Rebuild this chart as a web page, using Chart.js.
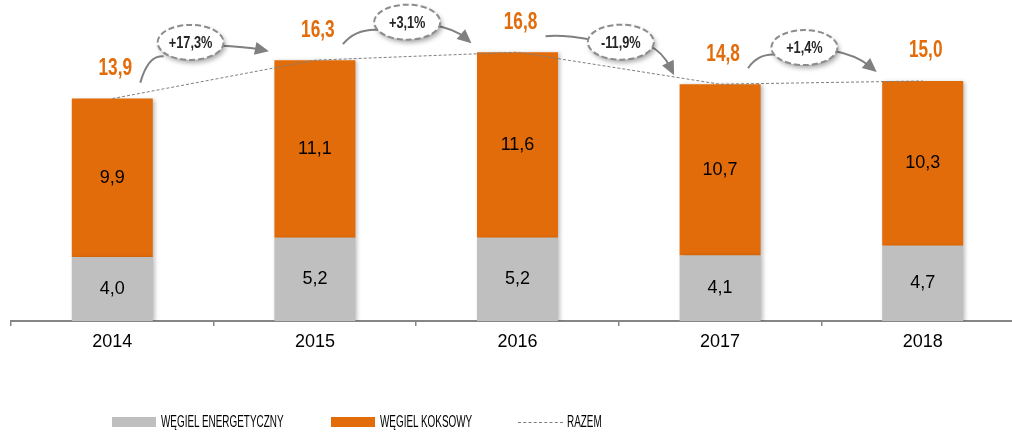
<!DOCTYPE html>
<html>
<head>
<meta charset="utf-8">
<script src="https://cdn.jsdelivr.net/npm/chart.js@4"></script>
<style>
    html, body { margin: 0; padding: 0; background: #fff; overflow: hidden; }
    #wrap { position: relative; width: 1012px; height: 432px; overflow: hidden; }
    #chart { position: absolute; left: 0; top: 0; }
    .legend-item { position: absolute; top: 413px; display: flex; align-items: center; height: 18px; white-space: nowrap;
        font: 16px "Liberation Sans", Arial, sans-serif; color: #000; }
    .legend-item span { display: inline-block; transform: scaleX(0.62); transform-origin: left center; }
    .legend-box { width: 44px; height: 10px; margin-right: 5px; }
    .legend-line { width: 45px; height: 0; border-top: 1px dashed #7f7f7f; margin-right: 4px; }
</style>
</head>
<body>
<div id="wrap">
    <canvas id="chart" width="1026" height="432"></canvas>
    <div class="legend-item" style="left:112px"><div class="legend-box" style="background:#bfbfbf"></div><span>WĘGIEL ENERGETYCZNY</span></div>
    <div class="legend-item" style="left:331px"><div class="legend-box" style="background:#e36c0a"></div><span>WĘGIEL KOKSOWY</span></div>
    <div class="legend-item" style="left:518px"><div class="legend-line"></div><span>RAZEM</span></div>
</div>
<script>
// dane
const years = ['2014', '2015', '2016', '2017', '2018'];
const energetyczny = [4.0, 5.2, 5.2, 4.1, 4.7];
const koksowy = [9.9, 11.1, 11.6, 10.7, 10.3];
const razem = [13.9, 16.3, 16.8, 14.8, 15.0];
const zmiany = ['+17,3%', '+3,1%', '-11,9%', '+1,4%'];

// ułożenie dymków ze zmianą (przesunięcie w px względem granicy kategorii / uniesienie nad średnią)
const dymekDx = [-23, -9, 2, -17];
const dymekLift = [37, 34, 26, 35];

const ORANGE = '#e36c0a';
const GRAY = '#bfbfbf';
const FONT = '"Liberation Sans", Arial, sans-serif';

const fmt = v => v.toFixed(1).replace('.', ',');

// cień pod słupkami
const barShadow = {
    id: 'barShadow',
    beforeDatasetDraw(chart, args) {
        if (args.meta.type !== 'bar') return;
        const ctx = chart.ctx;
        ctx.save();
        ctx.shadowColor = 'rgba(0,0,0,0.25)';
        ctx.shadowBlur = 4;
        ctx.shadowOffsetX = 2;
        ctx.shadowOffsetY = 1;
    },
    afterDatasetDraw(chart, args) {
        if (args.meta.type !== 'bar') return;
        chart.ctx.restore();
    }
};

// tekst zwężony (zamiast Arial Narrow)
function narrowText(ctx, text, x, y, sx) {
    ctx.save();
    ctx.translate(x, y);
    ctx.scale(sx, 1);
    ctx.fillText(text, 0, 0);
    ctx.restore();
}

function arrowHead(ctx, fromX, fromY, toX, toY) {
    const ang = Math.atan2(toY - fromY, toX - fromX);
    const len = 14, half = 6.5;
    ctx.beginPath();
    ctx.moveTo(toX, toY);
    ctx.lineTo(toX - len * Math.cos(ang) + half * Math.sin(ang), toY - len * Math.sin(ang) - half * Math.cos(ang));
    ctx.lineTo(toX - len * Math.cos(ang) - half * Math.sin(ang), toY - len * Math.sin(ang) + half * Math.cos(ang));
    ctx.closePath();
    ctx.fill();
}

// etykiety wartości, sumy i strzałki ze zmianą r/r
const labels = {
    id: 'labels',
    afterDatasetsDraw(chart) {
        const ctx = chart.ctx;
        const x = chart.scales.x;
        const y = chart.scales.y;
        const gray = chart.getDatasetMeta(0).data;
        const orange = chart.getDatasetMeta(1).data;

        ctx.save();
        ctx.textAlign = 'center';
        ctx.textBaseline = 'middle';
        ctx.fillStyle = '#000';
        ctx.font = '18px ' + FONT;
        gray.forEach((bar, i) => ctx.fillText(fmt(energetyczny[i]), bar.x, (bar.y + bar.base) / 2));
        orange.forEach((bar, i) => ctx.fillText(fmt(koksowy[i]), bar.x, (bar.y + bar.base) / 2));

        ctx.fillStyle = ORANGE;
        ctx.font = 'bold 23px ' + FONT;
        orange.forEach((bar, i) => narrowText(ctx, fmt(razem[i]), bar.x + 3, bar.y - 30, 0.75));

        const a = 33, b = 17.5;
        for (let i = 0; i < zmiany.length; i++) {
            const p0 = orange[i], p1 = orange[i + 1];
            const sx = p0.x + 28, sy = p0.y - 16;
            const tx = p1.x - 46, ty = p1.y - 9;
            const cx = (x.getPixelForValue(i) + x.getPixelForValue(i + 1)) / 2 + dymekDx[i];
            const cy = y.getPixelForValue((razem[i] + razem[i + 1]) / 2) - dymekLift[i];

            ctx.strokeStyle = '#808080';
            ctx.fillStyle = '#808080';
            ctx.lineWidth = 2;
            ctx.setLineDash([]);
            // łuk wejściowy
            const ex = cx - a + 6;
            const ey = cy + Math.max(-7, Math.min(14, (sy - cy) * 0.35));
            ctx.beginPath();
            ctx.moveTo(sx, sy);
            ctx.quadraticCurveTo(sx + 0.35 * (ex - sx), Math.min(sy, ey) - 2, ex, ey);
            ctx.stroke();
            // łuk ze strzałką
            const rx = cx + a - 6, ry = cy + 3;
            const kx = rx + 0.55 * (tx - rx), ky = ry + 0.2 * (ty - ry);
            ctx.beginPath();
            ctx.moveTo(rx, ry);
            const ang = Math.atan2(ty - ky, tx - kx);
            ctx.quadraticCurveTo(kx, ky, tx - 8 * Math.cos(ang), ty - 8 * Math.sin(ang));
            ctx.stroke();
            arrowHead(ctx, kx, ky, tx, ty);

            // elipsa
            ctx.save();
            ctx.shadowColor = 'rgba(0,0,0,0.35)';
            ctx.shadowBlur = 5;
            ctx.shadowOffsetX = 2;
            ctx.shadowOffsetY = 3;
            ctx.beginPath();
            ctx.ellipse(cx, cy, a, b, 0, 0, Math.PI * 2);
            ctx.fillStyle = '#fff';
            ctx.fill();
            ctx.restore();
            ctx.beginPath();
            ctx.ellipse(cx, cy, a, b, 0, 0, Math.PI * 2);
            ctx.setLineDash([6, 3]);
            ctx.lineWidth = 2;
            ctx.strokeStyle = '#8c8c8c';
            ctx.stroke();
            ctx.setLineDash([]);

            ctx.fillStyle = '#262626';
            ctx.font = 'bold 17px ' + FONT;
            narrowText(ctx, zmiany[i], cx, cy + 1, 0.75);
        }
        ctx.restore();
    }
};

new Chart(document.getElementById('chart'), {
    type: 'bar',
    data: {
        labels: years,
        datasets: [
            {
                label: 'WĘGIEL ENERGETYCZNY',
                data: energetyczny,
                backgroundColor: GRAY,
                stack: 'wegiel',
                order: 1,
                categoryPercentage: 0.5,
                barPercentage: 0.8
            },
            {
                label: 'WĘGIEL KOKSOWY',
                data: koksowy,
                backgroundColor: ORANGE,
                stack: 'wegiel',
                order: 1,
                categoryPercentage: 0.5,
                barPercentage: 0.8
            },
            {
                type: 'line',
                label: 'RAZEM',
                data: razem,
                stack: 'razem',
                borderColor: '#7f7f7f',
                borderWidth: 1,
                borderDash: [3, 2],
                pointRadius: 0,
                tension: 0,
                fill: false,
                order: 0
            }
        ]
    },
    options: {
        responsive: false,
        animation: false,
        devicePixelRatio: 1,
        layout: { padding: { left: 11, right: 2, top: 1, bottom: 0 } },
        plugins: {
            legend: { display: false },
            tooltip: { enabled: false }
        },
        scales: {
            x: {
                stacked: true,
                grid: {
                    display: true,
                    offset: true,
                    drawOnChartArea: false,
                    drawTicks: true,
                    tickLength: 5,
                    color: '#868686',
                    lineWidth: 1.5
                },
                border: { display: true, color: '#868686', width: 2 },
                ticks: {
                    color: '#000',
                    font: { size: 18, family: FONT },
                    padding: 5,
                    maxRotation: 0
                },
                afterFit(scale) { scale.height = 111; }
            },
            y: {
                display: false,
                stacked: true,
                min: 0,
                max: 20
            }
        }
    },
    plugins: [barShadow, labels]
});
</script>
</body>
</html>
